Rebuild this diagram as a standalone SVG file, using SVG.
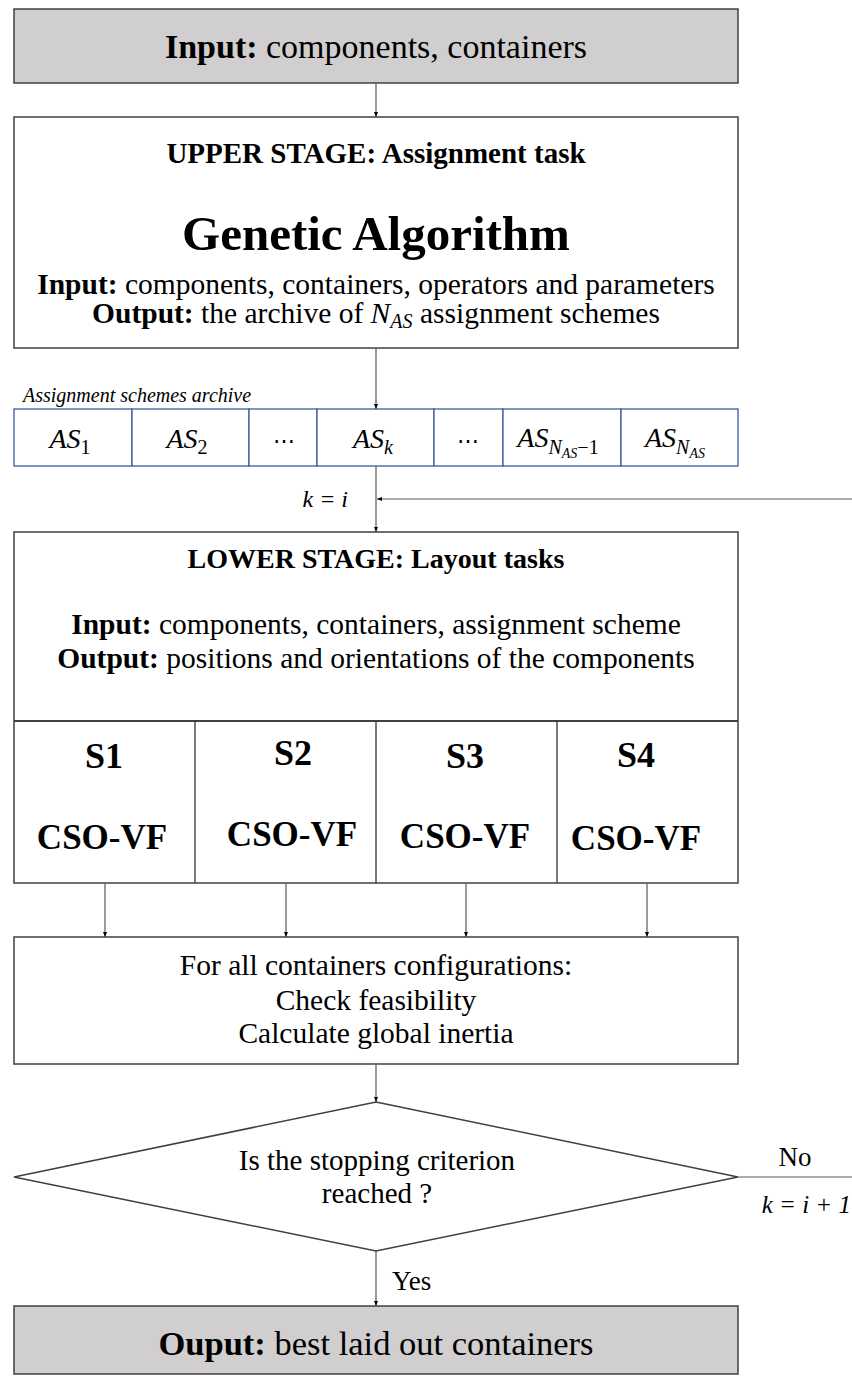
<svg xmlns="http://www.w3.org/2000/svg" width="852" height="1376" viewBox="0 0 852 1376">
<defs>
<style>
.t{font-family:"Liberation Serif","DejaVu Serif",serif;fill:#000}
.b{font-weight:bold}
.i{font-style:italic}
.box{fill:#fff;stroke:#404040;stroke-width:1.5}
.gbox{fill:#d0cece;stroke:#404040;stroke-width:1.5}
.cell{fill:#fff;stroke:#3b5ca0;stroke-width:1.3}
.ln{fill:none;stroke:#333;stroke-width:1.3}
.con{fill:none;stroke:#595959;stroke-width:1.2}
</style>
<marker id="ah" viewBox="0 0 10 10" refX="10" refY="5" markerWidth="5" markerHeight="5" markerUnits="userSpaceOnUse" orient="auto">
<path d="M0,1 L10,5 L0,9 z" fill="#000"/>
</marker>
</defs>
<rect width="852" height="1376" fill="#fff"/>

<g id="input">
<rect class="gbox" x="14" y="9" width="724" height="74"/>
<text class="t" x="376" y="58" font-size="34" text-anchor="middle"><tspan class="b">Input:</tspan> components, containers</text>
</g>

<g id="upper-stage">
<rect class="box" x="14" y="117" width="724" height="231"/>
<text class="t b" x="376" y="163" font-size="29" text-anchor="middle">UPPER STAGE: Assignment task</text>
<text class="t b" x="376" y="250" font-size="49" text-anchor="middle">Genetic Algorithm</text>
<text class="t" x="376" y="294" font-size="29.5" text-anchor="middle"><tspan class="b">Input:</tspan> components, containers, operators and parameters</text>
<text class="t" x="376" y="323" font-size="29.5" text-anchor="middle"><tspan class="b">Output:</tspan> the archive of <tspan class="i">N</tspan><tspan class="i" font-size="20" dy="5">AS</tspan><tspan dy="-5"> assignment schemes</tspan></text>
</g>

<g id="archive">
<text class="t i" x="23" y="402" font-size="20">Assignment schemes archive</text>
<rect class="cell" x="14" y="409" width="118" height="57"/>
<rect class="cell" x="132" y="409" width="117" height="57"/>
<rect class="cell" x="249" y="409" width="68" height="57"/>
<rect class="cell" x="317" y="409" width="117" height="57"/>
<rect class="cell" x="434" y="409" width="69" height="57"/>
<rect class="cell" x="503" y="409" width="118" height="57"/>
<rect class="cell" x="621" y="409" width="117" height="57"/>
<text class="t" x="70" y="448" font-size="28" text-anchor="middle"><tspan class="i">AS</tspan><tspan font-size="20" dy="6">1</tspan></text>
<text class="t" x="187" y="448" font-size="28" text-anchor="middle"><tspan class="i">AS</tspan><tspan font-size="20" dy="6">2</tspan></text>
<text class="t" x="284" y="448" font-size="22" text-anchor="middle">⋯</text>
<text class="t" x="373" y="448" font-size="28" text-anchor="middle"><tspan class="i">AS</tspan><tspan class="i" font-size="20" dy="6">k</tspan></text>
<text class="t" x="468" y="448" font-size="22" text-anchor="middle">⋯</text>
<text class="t" x="558" y="447" font-size="28" text-anchor="middle"><tspan class="i">AS</tspan><tspan class="i" font-size="20" dy="7">N</tspan><tspan class="i" font-size="14" dy="4">AS</tspan><tspan font-size="20" dy="-4">−1</tspan></text>
<text class="t" x="675" y="447" font-size="28" text-anchor="middle"><tspan class="i">AS</tspan><tspan class="i" font-size="20" dy="7">N</tspan><tspan class="i" font-size="14" dy="4">AS</tspan></text>
</g>

<g id="lower-stage">
<rect class="box" x="14" y="532" width="724" height="351"/>
<line x1="14" y1="721" x2="738" y2="721" stroke="#404040" stroke-width="2.2"/>
<line class="ln" x1="195" y1="721" x2="195" y2="883"/>
<line class="ln" x1="376" y1="721" x2="376" y2="883"/>
<line class="ln" x1="557" y1="721" x2="557" y2="883"/>
<text class="t b" x="376" y="568" font-size="28" text-anchor="middle">LOWER STAGE: Layout tasks</text>
<text class="t" x="376" y="634" font-size="29.5" text-anchor="middle"><tspan class="b">Input:</tspan> components, containers, assignment scheme</text>
<text class="t" x="376" y="668" font-size="29.5" text-anchor="middle"><tspan class="b">Output:</tspan> positions and orientations of the components</text>
</g>

<g id="s1">
<text class="t b" x="104" y="768" font-size="36" text-anchor="middle">S1</text>
<text class="t b" x="102" y="849" font-size="35" text-anchor="middle">CSO-VF</text>
</g>
<g id="s2">
<text class="t b" x="293" y="765" font-size="36" text-anchor="middle">S2</text>
<text class="t b" x="292" y="846" font-size="35" text-anchor="middle">CSO-VF</text>
</g>
<g id="s3">
<text class="t b" x="465" y="768" font-size="36" text-anchor="middle">S3</text>
<text class="t b" x="465" y="848" font-size="35" text-anchor="middle">CSO-VF</text>
</g>
<g id="s4">
<text class="t b" x="636" y="767" font-size="36" text-anchor="middle">S4</text>
<text class="t b" x="636" y="850" font-size="35" text-anchor="middle">CSO-VF</text>
</g>

<g id="evaluate">
<rect class="box" x="14" y="937" width="724" height="127"/>
<text class="t" x="376" y="975" font-size="29.5" text-anchor="middle">For all containers configurations:</text>
<text class="t" x="376" y="1010" font-size="29.5" text-anchor="middle">Check feasibility</text>
<text class="t" x="376" y="1043" font-size="29.5" text-anchor="middle">Calculate global inertia</text>
</g>

<g id="decision">
<polygon class="box" points="376,1102 738,1177 376,1251 14,1177" stroke-width="1.2"/>
<text class="t" x="377" y="1170" font-size="29" text-anchor="middle">Is the stopping criterion</text>
<text class="t" x="377" y="1203" font-size="29" text-anchor="middle">reached ?</text>
</g>

<g id="output">
<rect class="gbox" x="14" y="1306" width="724" height="68"/>
<text class="t" x="376" y="1355" font-size="34.5" text-anchor="middle"><tspan class="b">Ouput:</tspan> best laid out containers</text>
</g>

<g id="connectors">
<line class="con" x1="376" y1="83" x2="376" y2="117" marker-end="url(#ah)"/>
<line class="con" x1="376" y1="348" x2="376" y2="409" marker-end="url(#ah)"/>
<line class="con" x1="376" y1="466" x2="376" y2="532" marker-end="url(#ah)"/>
<line class="con" x1="852" y1="499" x2="377" y2="499" marker-end="url(#ah)"/>
<line class="con" x1="105" y1="883" x2="105" y2="937" marker-end="url(#ah)"/>
<line class="con" x1="286" y1="883" x2="286" y2="937" marker-end="url(#ah)"/>
<line class="con" x1="466" y1="883" x2="466" y2="937" marker-end="url(#ah)"/>
<line class="con" x1="647" y1="883" x2="647" y2="937" marker-end="url(#ah)"/>
<line class="con" x1="376" y1="1064" x2="376" y2="1102" marker-end="url(#ah)"/>
<line class="con" x1="376" y1="1251" x2="376" y2="1306" marker-end="url(#ah)"/>
<line class="con" x1="738" y1="1177" x2="852" y2="1177"/>
<text class="t i" x="348" y="507" font-size="24" text-anchor="end">k = i</text>
<text class="t" x="795" y="1166" font-size="27" text-anchor="middle">No</text>
<text class="t i" x="851" y="1213" font-size="25" text-anchor="end">k = i + 1</text>
<text class="t" x="392" y="1290" font-size="27">Yes</text>
</g>
</svg>
